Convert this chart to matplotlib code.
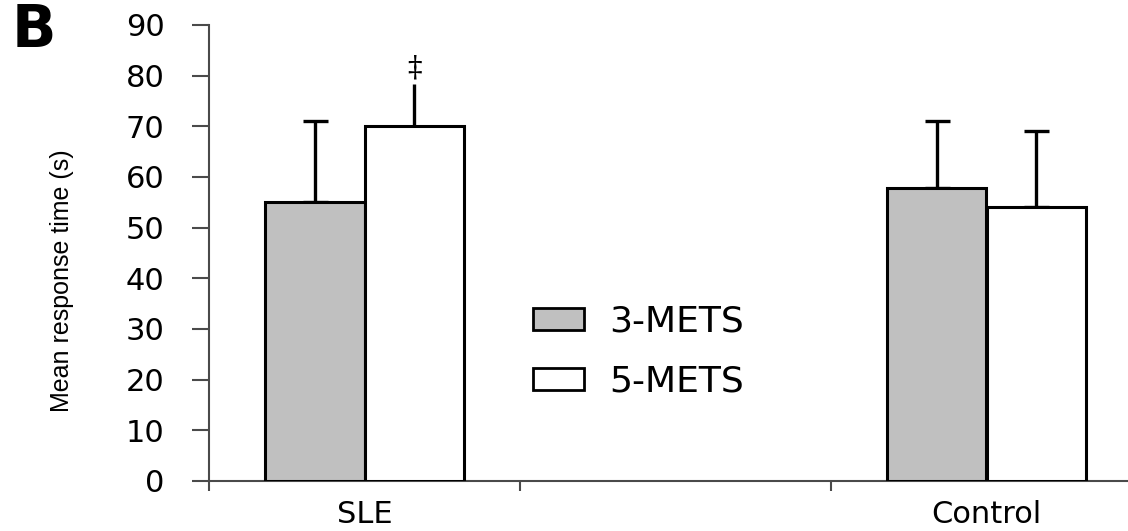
import numpy as np
import matplotlib
matplotlib.use("Agg")
import matplotlib.pyplot as plt
from matplotlib.patches import Patch

categories = ["SLE", "Control"]
series_names = ["3-METS", "5-METS"]
mets3_mean = [55, 57.8]
mets3_err = [16, 13.2]
mets5_mean = [70, 54]
mets5_err = [8.3, 15]
yticks = [0, 10, 20, 30, 40, 50, 60, 70, 80, 90]
panel_label = "B"
ylabel = "Mean response time (s)"
sig_marker = "\u2021"

fig = plt.figure(figsize=(11.28, 5.31), dpi=100)
ax = fig.add_axes([209/1128, 1-481/531, 933/1128, 456/531])

pos = np.arange(len(categories)) * 2 + 0.5
w = 0.32
edge = "black"
axcol = "#4a4a4a"

ax.bar(pos - w/2, mets3_mean, w, color="#c0c0c0", edgecolor=edge, linewidth=2.2, zorder=3)
ax.bar(pos + w/2, mets5_mean, w, color="white", edgecolor=edge, linewidth=2.2, zorder=3)

ax.errorbar(pos - w/2, mets3_mean, yerr=[np.zeros(2), mets3_err], fmt="none",
            ecolor="black", elinewidth=2.4, capsize=9, capthick=2.4, zorder=2)
ax.errorbar(pos[1:] + w/2, mets5_mean[1:], yerr=[np.zeros(1), mets5_err[1:]], fmt="none",
            ecolor="black", elinewidth=2.4, capsize=9, capthick=2.4, zorder=2)
ax.errorbar(pos[:1] + w/2, mets5_mean[:1], yerr=[np.zeros(1), mets5_err[:1]], fmt="none",
            ecolor="black", elinewidth=2.4, capsize=0, zorder=2)
ax.text(pos[0] + w/2, mets5_mean[0] + mets5_err[0] + 0.3, sig_marker, ha="center", va="bottom",
        fontsize=21, color="black", family="DejaVu Serif")

ax.set_xlim(0, 3)
ax.set_ylim(0, 90)
ax.set_yticks(yticks)
ax.set_yticklabels([str(t) for t in yticks], fontsize=22, family="DejaVu Sans")
ax.set_xticks([0, 1, 2, 3])
ax.set_xticklabels([])
ax.set_xticks(pos, minor=True)
ax.set_xticklabels(categories, minor=True, fontsize=22, family="DejaVu Sans")
ax.tick_params(axis="x", which="minor", length=0, pad=14)
ax.tick_params(axis="x", which="major", length=7, width=1.5, color=axcol, direction="out")
ax.tick_params(axis="y", length=12, width=1.5, color=axcol, direction="out", pad=20)

for s in ["top", "right"]:
    ax.spines[s].set_visible(False)
for s in ["left", "bottom"]:
    ax.spines[s].set_color(axcol)
    ax.spines[s].set_linewidth(1.5)

fig.text(62/1128, 1-281/531, ylabel, rotation=90, ha="center", va="center",
         fontsize=18, family="Liberation Sans")
fig.text(12/1128, 1-47/531, panel_label, ha="left", va="baseline",
         fontsize=42, fontweight="heavy", family="DejaVu Sans")

handles = [Patch(facecolor="#c0c0c0", edgecolor="black", linewidth=2),
           Patch(facecolor="white", edgecolor="black", linewidth=2)]
fig.legend(handles, series_names, loc="center left",
           bbox_to_anchor=(533/1128, 1-352/531), frameon=False,
           prop={"family": "DejaVu Sans", "size": 26},
           handlelength=1.42, handleheight=0.58, handletextpad=0.68,
           labelspacing=0.72, borderpad=0, borderaxespad=0)

fig.savefig("out.png", dpi=100)
